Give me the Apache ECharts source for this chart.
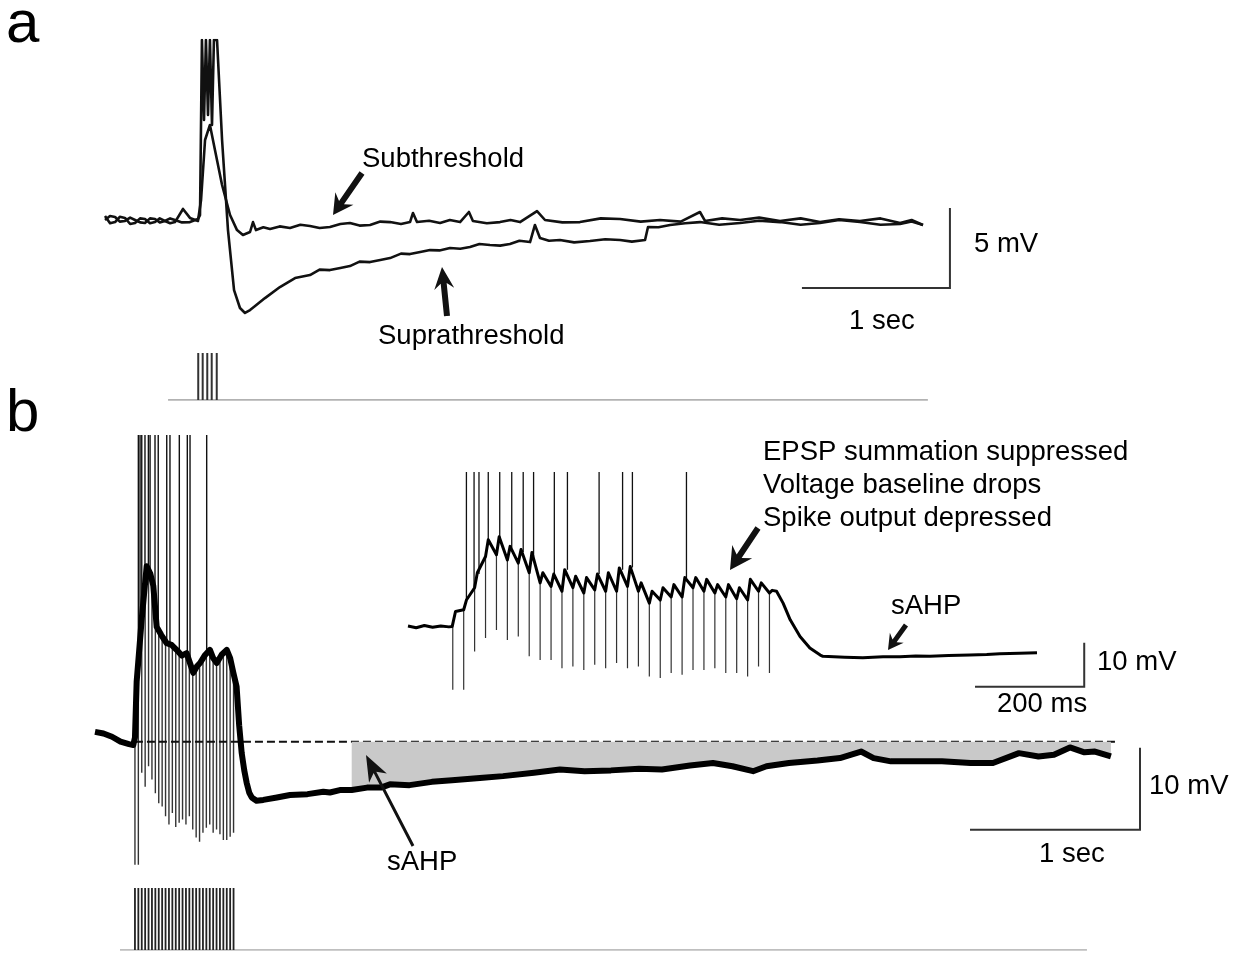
<!DOCTYPE html>
<html>
<head>
<meta charset="utf-8">
<script src="https://cdn.jsdelivr.net/npm/echarts@6.0.0/dist/echarts.min.js"></script>
<style>
  html, body { margin: 0; padding: 0; background: #fff; }
  #chart { width: 1239px; height: 954px; }
</style>
</head>
<body>
<div id="chart"></div>
<script>
// ---- panel a : time in s, voltage in mV (0 = resting baseline)
const subTrace = [
  [0.000,0.25],[0.034,-0.2],[0.068,-0.13],[0.1,0.2],[0.135,0.13],[0.17,-0.25],[0.203,-0.19],[0.237,0.1],
  [0.270,0.06],[0.304,-0.2],[0.338,-0.13],[0.37,0.1],[0.405,-0.06],[0.44,-0.2],[0.473,-0.13],
  [0.527,0.69],[0.574,0.13],[0.628,-0.06],[0.649,1.25],[0.676,5.0],[0.709,5.94],
  [0.743,4.38],[0.791,2.19],[0.845,0.31],[0.892,-0.63],[0.932,-0.94],[0.980,-0.75],[1.000,-0.13],
  [1.020,-0.63],[1.07,-0.45],[1.115,-0.56],[1.18,-0.4],[1.250,-0.5],[1.32,-0.3],[1.385,-0.38],[1.45,-0.5],
  [1.520,-0.44],[1.59,-0.25],[1.655,-0.19],[1.72,-0.35],[1.791,-0.31],[1.86,-0.1],[1.926,-0.13],[2.0,-0.25],
  [2.061,-0.13],[2.081,0.44],[2.108,-0.13],[2.19,-0.05],[2.264,-0.19],[2.33,0.0],[2.399,-0.13],[2.459,0.5],
  [2.486,-0.06],[2.58,-0.2],[2.669,-0.13],[2.74,0.0],[2.804,-0.13],[2.919,0.56],[2.973,0],[3.09,-0.15],
  [3.209,-0.13],[3.35,0.1],[3.480,0.06],[3.62,-0.1],[3.750,0],[3.89,-0.1],[4.020,0.5],[4.054,-0.06],
  [4.17,0.1],[4.291,0],[4.42,0.15],[4.561,-0.06],[4.7,0.1],[4.831,-0.13],[4.96,0.05],[5.101,-0.06],
  [5.24,0.1],[5.372,-0.19],[5.45,0.0],[5.527,-0.31]
];
const supraTrace = [
  [0.000,0],[0.034,0.25],[0.068,0.19],[0.1,-0.1],[0.135,-0.06],[0.17,0.15],[0.203,0],[0.237,-0.15],
  [0.270,-0.19],[0.304,0.1],[0.338,0.06],[0.37,-0.15],[0.405,-0.06],[0.44,0.1],[0.473,0],[0.52,-0.15],
  [0.574,-0.13],[0.628,0.06],[0.642,0.31],[0.655,11.25],[0.669,6.25],[0.682,11.25],
  [0.696,6.56],[0.709,11.25],[0.723,5.94],[0.736,11.25],[0.757,11.25],[0.791,5.0],[0.831,-0.63],
  [0.872,-4.38],[0.912,-5.5],[0.946,-5.81],[0.980,-5.63],[1.014,-5.38],[1.081,-4.88],[1.182,-4.19],
  [1.284,-3.63],[1.385,-3.44],[1.45,-3.1],[1.520,-3.13],[1.59,-3.0],[1.655,-2.88],[1.72,-2.6],[1.791,-2.63],
  [1.86,-2.5],[1.926,-2.38],[2.0,-2.1],[2.061,-2.13],[2.13,-2.0],[2.196,-1.88],[2.26,-1.9],[2.331,-1.75],
  [2.4,-1.8],[2.466,-1.69],[2.53,-1.5],[2.601,-1.56],[2.67,-1.6],[2.736,-1.5],[2.8,-1.3],[2.872,-1.38],
  [2.905,-0.31],[2.939,-1.13],[3.0,-1.3],[3.074,-1.25],[3.17,-1.4],[3.277,-1.31],[3.38,-1.2],[3.480,-1.25],
  [3.56,-1.35],[3.649,-1.25],[3.669,-0.44],[3.74,-0.45],[3.818,-0.31],[3.92,-0.2],[4.020,-0.13],
  [4.15,-0.3],[4.291,-0.19],[4.42,-0.05],[4.561,-0.13],[4.7,-0.3],[4.831,-0.19],[4.96,0.0],[5.101,-0.13],
  [5.24,-0.3],[5.372,-0.25],[5.45,-0.1],[5.527,-0.31]
];
const aStimS = [0.630, 0.660, 0.691, 0.721, 0.755];
const aStimLine = [0.426, 5.56];
const aScaleCorner = [5.709, -4.25];   // 1 s horizontal, 5 mV vertical

// ---- panel b : time in s, voltage in mV (0 = dashed baseline)
const bTrace = [
  [0,1.2],[0.05,1.0],[0.1,0.6],[0.15,0.0],[0.2,-0.3],[0.225,-0.4],[0.235,0.5],[0.245,7.3],
  [0.275,15],[0.304,21.4],[0.325,20.5],[0.343,19],[0.363,14],[0.39,13],[0.422,12],[0.45,11.8],
  [0.48,11.2],[0.51,10.5],[0.539,10.8],[0.56,9.5],[0.578,8.4],[0.6,9.2],[0.618,9.6],[0.645,10.5],
  [0.676,11.2],[0.695,10.2],[0.716,9.6],[0.745,10.6],[0.775,11.2],[0.795,10.2],[0.814,8.4],
  [0.833,6.7],[0.848,2],[0.863,-1.4],[0.878,-3.5],[0.892,-5],[0.907,-6.2],[0.922,-6.8],[0.95,-7.2],
  [0.99,-7.1],[1.07,-6.8],[1.147,-6.5],[1.25,-6.4],[1.343,-6.1],[1.382,-6.2],[1.44,-5.9],[1.51,-5.9],
  [1.6,-5.6],[1.682,-5.6],[1.735,-5.2],[1.85,-5.3],[1.982,-4.9],[2.1,-4.7],[2.282,-4.4],[2.4,-4.2],
  [2.582,-3.8],[2.735,-3.4],[2.88,-3.6],[3.035,-3.5],[3.2,-3.3],[3.335,-3.4],[3.5,-2.9],[3.635,-2.6],
  [3.75,-3.0],[3.871,-3.6],[3.95,-3.0],[4.082,-2.6],[4.25,-2.3],[4.382,-2.0],[4.506,-1.2],[4.58,-2.0],
  [4.682,-2.4],[4.85,-2.4],[4.982,-2.4],[5.15,-2.6],[5.282,-2.6],[5.435,-1.4],[5.55,-1.8],[5.641,-1.6],
  [5.735,-0.7],[5.82,-1.3],[5.882,-1.2],[5.976,-1.8]
];
const bShadeFrom = 1.51;
const bBaseline = [0.235, 6.0];
const bPulseS = [0.235,0.255,0.275,0.295,0.315,0.335,0.355,0.375,0.395,0.415,0.435,0.455,0.475,0.495,0.515,
                 0.535,0.555,0.575,0.595,0.615,0.635,0.655,0.675,0.695,0.715,0.735,0.755,0.775,0.795,0.815];
const bPulseTopMv = [0.5,9,15,19,21,20,16,13.5,13,12,12,11.8,11.2,11,10.5,10.8,9.8,8.6,9,9.6,10.2,10.8,11.2,10.2,9.6,10.3,10.9,11.2,10.2,8.2];
const bArtifactMv = [-15,-15,-3.8,-5.5,-3,-4.6,-6.3,-7.5,-7.9,-9.1,-10.1,-8.7,-10.4,-9.9,-9.5,-10.1,-9.1,-10.7,-11.7,-12.2,
                     -11.1,-10.5,-10.1,-11.1,-10.7,-11.3,-12,-12,-11.6,-11.1];
const bSpikeS = [0.255,0.265,0.275,0.294,0.314,0.324,0.353,0.372,0.422,0.441,0.496,0.543,0.559,0.657];
const bSpikeBaseMv = [9,12,15,19,21,21,16,13.5,12,12,11,10.8,9.8,10.8];
const bStimLine = [0.147, 5.835];
const bScaleCorner = [6.147, -10.73];  // 1 s horizontal, 10 mV vertical

// ---- inset : time in ms, voltage in mV
const insetPre = [[0,0.2],[15,-0.2],[30,0.3],[45,-0.1],[60,0.2],[75,0],[81,0.1]];
const insetPulseMs = [82,102,122,142,162,182,202,222,242,262,282,302,322,342,362,
                      382,402,422,442,462,482,502,522,542,562,582,602,622,642,662];
const insetTroughMv = [0.1,3.9,8.9,16,16.4,15.2,14.5,12.3,10,9.2,8.1,8.9,7.7,8.4,8.1,
                       8.1,9.2,8.1,5.4,6.1,6.8,6.8,8.9,8.1,7.7,6.8,6.4,6.1,8.1,7.7];
const insetPeakMv = [3.5,6.1,12.3,19.8,20.5,18.3,17.6,16.9,12.3,12,13,11.5,11.2,12,12.3,
                     13.4,13.7,10,8.1,8.9,9.6,11.2,11.2,10.8,9.6,9.6,8.9,10.8,10,8.3];
const insetArtifactMv = [-14.3,-14.3,-5.6,-2.5,-0.7,-3,-2.2,-6.7,-7.5,-7.5,-9.4,-9.0,-9.8,-8.6,-9.4,
                         -8.2,-9.4,-9,-11.3,-11.6,-10.5,-10.9,-9.8,-9.8,-9.4,-10.5,-10.5,-11.3,-9.0,-10.5];
const insetPost = [[675,8.1],[687,5.4],[700,1.6],[718,-2.2],[736,-4.8],[755,-6.4],[760,-6.7],[800,-6.9],
                   [833,-7.0],[870,-6.8],[901,-6.8],[930,-6.6],[956,-6.7],[990,-6.5],[1029,-6.4],
                   [1060,-6.3],[1084,-6.1],[1120,-6.0],[1152,-5.9]];
const insetSpikeMs = [107,121,130,147,168,190,211,230,268,292,350,393,411,510];
const insetSpikeBaseMv = [6,9,12,19,20,18,17,16,12,13,12,13,13.5,11];
const insetTopMv = 35.2;
const insetScaleCorner = [1238.5, -13.6]; // 200 ms horizontal, 10 mV vertical

// grids: [left, top, width, height, xMin, xMax, yMin, yMax]
const grids = [
  [105, 40, 858.4, 300, 0, 5.8, -7.5, 11.25],     // a traces
  [105, 353, 858.4, 47, 0, 5.8, 0, 1],            // a stimulus
  [95, 435, 1054, 434.6, 0, 6.2, -15.6, 37.4],    // b traces
  [95, 888, 1054, 62, 0, 6.2, 0, 1],              // b stimulus
  [408, 472, 689.6, 220, 0, 1263, -14.8, 35.2]    // b inset
];

const chart = echarts.init(document.getElementById('chart'), null, { renderer: 'canvas' });

const vlines = (ts, lo, hi) => ts.map((t, i) => ({
  coords: [[t, Array.isArray(lo) ? lo[i] : lo], [t, Array.isArray(hi) ? hi[i] : hi]]
}));
const scaleBar = (c, dx, dy) => [{ coords: [[c[0] - dx, c[1]], c, [c[0], c[1] + dy]] }];

const insetTrace = [].concat(
  insetPre,
  insetPulseMs.flatMap((t, k) => [[t, insetTroughMv[k]], [t + 5, insetPeakMv[k]]]),
  insetPost
);

function lineSeries(gi, data, width, color, extra) {
  return Object.assign({
    type: 'line', xAxisIndex: gi, yAxisIndex: gi, data: data,
    showSymbol: false, symbol: 'none', silent: true, clip: true,
    lineStyle: { width: width, color: color, join: 'round' }
  }, extra || {});
}
function segSeries(gi, data, width, color, type) {
  return {
    type: 'lines', coordinateSystem: 'cartesian2d', xAxisIndex: gi, yAxisIndex: gi,
    polyline: true, data: data, silent: true,
    lineStyle: { width: width, color: color, opacity: 1, type: type || 'solid' }
  };
}

const font = '27.5px "Liberation Sans", Arial, sans-serif';
const big = '60px "Liberation Sans", Arial, sans-serif';
const labels = [
  ['a', 6, 25, big],
  ['b', 6, 414, big],
  ['Subthreshold', 362, 159, font],
  ['Suprathreshold', 378, 336, font],
  ['5 mV', 974, 244, font],
  ['1 sec', 849, 321, font],
  ['EPSP summation suppressed', 763, 452, font],
  ['Voltage baseline drops', 763, 485, font],
  ['Spike output depressed', 763, 518, font],
  ['sAHP', 891, 606, font],
  ['10 mV', 1097, 662, font],
  ['200 ms', 997, 704, font],
  ['10 mV', 1149, 786, font],
  ['1 sec', 1039, 854, font],
  ['sAHP', 387, 862, font]
];

function arrowPts(x1, y1, x2, y2, shaft, head, headLen) {
  const dx = x2 - x1, dy = y2 - y1, L = Math.hypot(dx, dy);
  const ux = dx / L, uy = dy / L, nx = -uy, ny = ux;
  const bx = x2 - ux * headLen, by = y2 - uy * headLen;
  const cx = x2 - ux * headLen * 0.75, cy = y2 - uy * headLen * 0.75;
  return [
    [x1 + nx * shaft / 2, y1 + ny * shaft / 2],
    [cx + nx * shaft / 2, cy + ny * shaft / 2],
    [bx + nx * head / 2, by + ny * head / 2],
    [x2, y2],
    [bx - nx * head / 2, by - ny * head / 2],
    [cx - nx * shaft / 2, cy - ny * shaft / 2],
    [x1 - nx * shaft / 2, y1 - ny * shaft / 2]
  ];
}
const arrows = [
  [362, 173, 333, 215, 6, 22, 20],
  [447, 316, 442, 267, 6, 20, 22],
  [758, 528, 730, 570, 6, 24, 22],
  [906, 625, 888, 650, 5, 17, 15],
  [413, 846, 366, 755, 3, 20, 26]
];

const graphic = labels.map(l => ({
  type: 'text', x: l[1], y: l[2], silent: true, z: 100,
  style: { text: l[0], font: l[3], fill: '#000', align: 'left', verticalAlign: 'middle' }
})).concat(arrows.map(a => ({
  type: 'polygon', silent: true, z: 100,
  shape: { points: arrowPts.apply(null, a) },
  style: { fill: '#111' }
})));

const option = {
  animation: false,
  backgroundColor: '#fff',
  grid: grids.map(g => ({ left: g[0], top: g[1], width: g[2], height: g[3], containLabel: false })),
  xAxis: grids.map((g, i) => ({ type: 'value', gridIndex: i, min: g[4], max: g[5], show: false })),
  yAxis: grids.map((g, i) => ({ type: 'value', gridIndex: i, min: g[6], max: g[7], show: false })),
  graphic: graphic,
  series: [
    // a
    lineSeries(0, subTrace, 2.6, '#111'),
    lineSeries(0, supraTrace, 2.6, '#111'),
    segSeries(0, scaleBar(aScaleCorner, 1, 5), 2, '#333'),
    segSeries(1, [{ coords: [[aStimLine[0], 0], [aStimLine[1], 0]] }], 1.5, '#999'),
    segSeries(1, vlines(aStimS, 0, 1), 2, '#333'),
    // b
    lineSeries(2, bTrace.filter(p => p[0] >= bShadeFrom), 0, '#ccc', {
      lineStyle: { width: 0, opacity: 0 },
      areaStyle: { color: '#c9c9c9', opacity: 1, origin: 0 }
    }),
    segSeries(2, vlines(bPulseS, bPulseTopMv, bArtifactMv), 1.4, '#333'),
    segSeries(2, vlines(bSpikeS, bSpikeBaseMv, grids[2][7]), 1.4, '#111'),
    segSeries(2, [{ coords: [[bBaseline[0], 0], [bBaseline[1], 0]] }], 2, '#111', [8, 4]),
    lineSeries(2, bTrace, 6, '#000'),
    segSeries(2, scaleBar(bScaleCorner, 1, 10), 2, '#333'),
    segSeries(3, [{ coords: [[bStimLine[0], 0], [bStimLine[1], 0]] }], 1.5, '#aaa'),
    segSeries(3, vlines(bPulseS, 0, 1), 1.8, '#222'),
    // inset
    segSeries(4, vlines(insetPulseMs, insetTroughMv, insetArtifactMv), 1.2, '#333'),
    segSeries(4, vlines(insetSpikeMs, insetSpikeBaseMv, insetTopMv), 1.3, '#111'),
    lineSeries(4, insetTrace, 3, '#000'),
    segSeries(4, scaleBar(insetScaleCorner, 200, 10), 2, '#333')
  ]
};
chart.setOption(option);
</script>
</body>
</html>
